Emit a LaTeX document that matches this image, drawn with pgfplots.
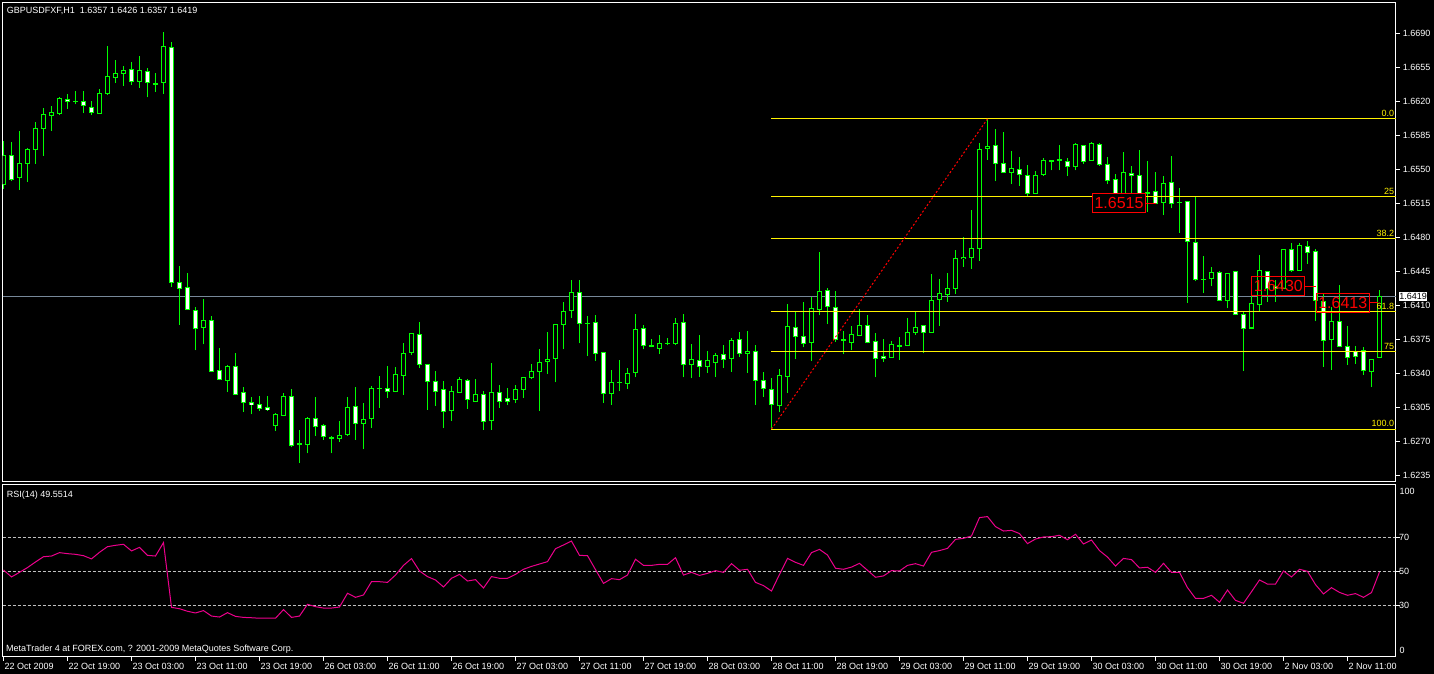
\documentclass[border=0pt]{standalone}
\usepackage{fontspec}
\setmainfont{Liberation Sans}
\usepackage{pgfplots}
\usepackage{pgfplotstable}
\pgfplotsset{compat=1.18}

\definecolor{mtgreen}{RGB}{0,255,0}
\definecolor{bidgray}{RGB}{119,136,153}
\definecolor{lvlgray}{RGB}{192,192,192}
\newcommand\pxu{0.00010285}% one pixel in price units
\newcommand\mtfont{\fontsize{9}{10}\selectfont}

% GBPUSD H1 candles: bar index, open, high, low, close
\pgfplotstableread{
i O H L C
0 1.6535 1.6579 1.6530 1.6564
1 1.6564 1.6578 1.6538 1.6540
2 1.6542 1.6590 1.6529 1.6556
3 1.6556 1.6572 1.6537 1.6571
4 1.6571 1.6599 1.6556 1.6592
5 1.6592 1.6613 1.6564 1.6607
6 1.6606 1.6615 1.6590 1.6609
7 1.6607 1.6624 1.6606 1.6623
8 1.6622 1.6628 1.6612 1.6620
9 1.6620 1.6631 1.6617 1.6620
10 1.6620 1.6631 1.6608 1.6616
11 1.6614 1.6620 1.6606 1.6609
12 1.6608 1.6633 1.6607 1.6628
13 1.6628 1.6677 1.6627 1.6646
14 1.6645 1.6663 1.6639 1.6649
15 1.6649 1.6656 1.6636 1.6652
16 1.6653 1.6660 1.6637 1.6641
17 1.6640 1.6667 1.6634 1.6652
18 1.6651 1.6654 1.6624 1.6639
19 1.6638 1.6649 1.6630 1.6638
20 1.6639 1.6691 1.6628 1.6677
21 1.6676 1.6681 1.6429 1.6434
22 1.6434 1.6451 1.6390 1.6428
23 1.6429 1.6443 1.6406 1.6406
24 1.6405 1.6409 1.6364 1.6387
25 1.6387 1.6417 1.6370 1.6395
26 1.6395 1.6399 1.6342 1.6342
27 1.6343 1.6366 1.6333 1.6334
28 1.6333 1.6349 1.6321 1.6347
29 1.6347 1.6361 1.6318 1.6319
30 1.6321 1.6326 1.6301 1.6310
31 1.6310 1.6316 1.6298 1.6308
32 1.6308 1.6317 1.6302 1.6304
33 1.6305 1.6317 1.6302 1.6303
34 1.6287 1.6299 1.6281 1.6298
35 1.6297 1.6320 1.6296 1.6317
36 1.6317 1.6324 1.6264 1.6266
37 1.6268 1.6282 1.6248 1.6268
38 1.6267 1.6295 1.6258 1.6294
39 1.6294 1.6316 1.6276 1.6286
40 1.6287 1.6288 1.6272 1.6275
41 1.6274 1.6276 1.6258 1.6274
42 1.6273 1.6291 1.6270 1.6276
43 1.6277 1.6316 1.6276 1.6305
44 1.6306 1.6326 1.6272 1.6289
45 1.6289 1.6310 1.6262 1.6293
46 1.6294 1.6327 1.6284 1.6325
47 1.6325 1.6338 1.6305 1.6325
48 1.6325 1.6348 1.6315 1.6322
49 1.6322 1.6347 1.6321 1.6339
50 1.6338 1.6371 1.6318 1.6361
51 1.6362 1.6382 1.6359 1.6381
52 1.6380 1.6393 1.6346 1.6349
53 1.6349 1.6350 1.6303 1.6332
54 1.6332 1.6343 1.6307 1.6322
55 1.6324 1.6332 1.6284 1.6301
56 1.6302 1.6327 1.6291 1.6322
57 1.6321 1.6337 1.6320 1.6334
58 1.6333 1.6334 1.6304 1.6313
59 1.6311 1.6334 1.6311 1.6319
60 1.6319 1.6322 1.6282 1.6291
61 1.6292 1.6351 1.6282 1.6321
62 1.6321 1.6328 1.6305 1.6311
63 1.6314 1.6325 1.6308 1.6311
64 1.6313 1.6328 1.6310 1.6324
65 1.6324 1.6336 1.6315 1.6336
66 1.6336 1.6350 1.6334 1.6342
67 1.6342 1.6365 1.6302 1.6352
68 1.6352 1.6383 1.6340 1.6355
69 1.6356 1.6390 1.6331 1.6390
70 1.6391 1.6414 1.6365 1.6404
71 1.6405 1.6436 1.6397 1.6423
72 1.6423 1.6436 1.6371 1.6392
73 1.6392 1.6399 1.6358 1.6392
74 1.6393 1.6400 1.6353 1.6361
75 1.6362 1.6362 1.6310 1.6320
76 1.6320 1.6344 1.6308 1.6331
77 1.6331 1.6354 1.6322 1.6331
78 1.6330 1.6346 1.6324 1.6340
79 1.6341 1.6401 1.6336 1.6385
80 1.6386 1.6390 1.6365 1.6369
81 1.6369 1.6376 1.6367 1.6369
82 1.6366 1.6380 1.6360 1.6371
83 1.6371 1.6377 1.6369 1.6371
84 1.6371 1.6397 1.6369 1.6392
85 1.6393 1.6401 1.6336 1.6349
86 1.6349 1.6370 1.6335 1.6355
87 1.6354 1.6380 1.6337 1.6347
88 1.6347 1.6363 1.6341 1.6353
89 1.6352 1.6361 1.6337 1.6359
90 1.6360 1.6369 1.6346 1.6355
91 1.6356 1.6377 1.6342 1.6374
92 1.6375 1.6383 1.6357 1.6361
93 1.6361 1.6384 1.6341 1.6363
94 1.6363 1.6369 1.6308 1.6333
95 1.6333 1.6342 1.6316 1.6325
96 1.6324 1.6335 1.6283 1.6308
97 1.6307 1.6345 1.6300 1.6338
98 1.6337 1.6412 1.6320 1.6389
99 1.6388 1.6404 1.6355 1.6378
100 1.6378 1.6414 1.6367 1.6371
101 1.6372 1.6419 1.6353 1.6407
102 1.6406 1.6465 1.6400 1.6425
103 1.6425 1.6428 1.6391 1.6409
104 1.6408 1.6425 1.6373 1.6375
105 1.6375 1.6384 1.6360 1.6375
106 1.6372 1.6389 1.6364 1.6380
107 1.6379 1.6406 1.6379 1.6390
108 1.6389 1.6400 1.6371 1.6372
109 1.6373 1.6382 1.6336 1.6356
110 1.6358 1.6376 1.6352 1.6356
111 1.6357 1.6374 1.6357 1.6370
112 1.6369 1.6378 1.6354 1.6369
113 1.6369 1.6397 1.6368 1.6382
114 1.6382 1.6403 1.6380 1.6388
115 1.6389 1.6389 1.6361 1.6382
116 1.6382 1.6442 1.6382 1.6415
117 1.6416 1.6437 1.6389 1.6422
118 1.6421 1.6443 1.6414 1.6428
119 1.6428 1.6467 1.6422 1.6458
120 1.6458 1.6480 1.6450 1.6460
121 1.6460 1.6508 1.6448 1.6469
122 1.6469 1.6577 1.6456 1.6570
123 1.6572 1.6602 1.6560 1.6574
124 1.6575 1.6592 1.6538 1.6556
125 1.6556 1.6588 1.6546 1.6547
126 1.6547 1.6569 1.6535 1.6551
127 1.6550 1.6563 1.6533 1.6545
128 1.6544 1.6555 1.6523 1.6525
129 1.6525 1.6548 1.6525 1.6544
130 1.6545 1.6562 1.6543 1.6559
131 1.6559 1.6560 1.6549 1.6559
132 1.6560 1.6575 1.6549 1.6560
133 1.6558 1.6562 1.6543 1.6553
134 1.6553 1.6577 1.6549 1.6576
135 1.6575 1.6575 1.6556 1.6558
136 1.6559 1.6578 1.6559 1.6577
137 1.6576 1.6577 1.6554 1.6555
138 1.6555 1.6563 1.6535 1.6539
139 1.6540 1.6545 1.6521 1.6523
140 1.6523 1.6568 1.6521 1.6547
141 1.6546 1.6554 1.6520 1.6544
142 1.6544 1.6570 1.6521 1.6524
143 1.6526 1.6559 1.6506 1.6526
144 1.6527 1.6547 1.6515 1.6515
145 1.6516 1.6543 1.6503 1.6536
146 1.6537 1.6564 1.6510 1.6515
147 1.6516 1.6531 1.6485 1.6516
148 1.6517 1.6517 1.6413 1.6476
149 1.6475 1.6522 1.6435 1.6437
150 1.6437 1.6461 1.6423 1.6437
151 1.6438 1.6450 1.6430 1.6444
152 1.6444 1.6446 1.6415 1.6415
153 1.6415 1.6443 1.6407 1.6443
154 1.6445 1.6445 1.6401 1.6401
155 1.6401 1.6404 1.6343 1.6387
156 1.6387 1.6439 1.6387 1.6412
157 1.6411 1.6462 1.6404 1.6446
158 1.6445 1.6446 1.6414 1.6428
159 1.6430 1.6436 1.6414 1.6428
160 1.6428 1.6468 1.6427 1.6468
161 1.6468 1.6474 1.6445 1.6446
162 1.6446 1.6474 1.6446 1.6472
163 1.6471 1.6476 1.6453 1.6465
164 1.6466 1.6468 1.6394 1.6415
165 1.6414 1.6423 1.6347 1.6374
166 1.6375 1.6408 1.6344 1.6394
167 1.6394 1.6431 1.6368 1.6368
168 1.6368 1.6389 1.6349 1.6357
169 1.6363 1.6368 1.6350 1.6358
170 1.6364 1.6367 1.6339 1.6343
171 1.6342 1.6355 1.6326 1.6355
172 1.6357 1.6426 1.6357 1.6419
}\candles

% RSI(14)
\pgfplotstableread{
i R
0 50.8
1 46.7
2 49.4
3 52.2
4 55.5
5 58.6
6 59.0
7 61.0
8 60.4
9 60.0
10 59.2
11 57.3
12 61.2
13 64.5
14 65.3
15 65.9
16 62.0
17 64.1
18 59.4
19 59.0
20 66.9
21 28.8
22 28.0
23 26.5
24 25.5
25 26.9
26 23.7
27 23.1
28 25.7
29 23.5
30 22.9
31 22.7
32 22.4
33 22.4
34 22.4
35 27.5
36 22.9
37 23.7
38 30.6
39 29.2
40 28.4
41 28.4
42 29.0
43 37.1
44 34.7
45 36.1
46 43.9
47 43.9
48 43.5
49 47.8
50 53.5
51 57.5
52 50.2
53 46.9
54 44.9
55 40.8
56 45.9
57 48.2
58 44.3
59 45.1
60 40.2
61 46.9
62 45.9
63 45.9
64 48.2
65 51.2
66 52.9
67 54.3
68 55.7
69 63.3
70 65.5
71 67.8
72 59.4
73 59.2
74 51.0
75 42.9
76 45.7
77 45.1
78 47.8
79 57.1
80 53.5
81 53.5
82 54.1
83 54.1
84 58.0
85 47.8
86 49.4
87 47.6
88 48.8
89 50.4
90 49.4
91 54.5
92 50.6
93 51.2
94 43.5
95 41.6
96 38.4
97 48.2
98 57.6
99 55.3
100 53.5
101 61.0
102 62.9
103 59.6
104 51.8
105 51.2
106 52.5
107 54.7
108 50.6
109 46.5
110 47.3
111 50.4
112 50.2
113 53.5
114 54.5
115 53.1
116 61.2
117 62.2
118 63.5
119 68.8
120 69.4
121 70.8
122 81.6
123 82.2
124 76.3
125 73.7
126 74.1
127 72.2
128 66.3
129 69.0
130 70.2
131 70.4
132 71.2
133 68.6
134 71.8
135 66.1
136 68.4
137 62.2
138 58.4
139 53.1
140 57.6
141 56.9
142 52.0
143 52.4
144 49.4
145 54.7
146 49.4
147 49.4
148 40.4
149 34.1
150 34.1
151 35.9
152 31.8
153 39.0
154 32.9
155 31.2
156 38.0
157 44.9
158 42.5
159 42.5
160 50.2
161 46.7
162 51.2
163 50.0
164 42.2
165 36.7
166 40.4
167 37.6
168 35.9
169 36.9
170 34.7
171 37.5
172 49.6
}\rsi

\pgfplotsset{
  mt/.style={
    scale only axis,
    width=1393.5pt,
    xmin=-0.125, xmax=174.0625,
    axis line style={white, line width=1pt},
    tick style={white, line width=1pt},
    tick align=outside,
    major tick length=4pt,
    tick label style={text=white, font=\mtfont},
    /pgf/number format/assume math mode=true,
    scaled ticks=false,
  },
  candle/.style={draw=none, forget plot, overlay,
    error bars/.cd, y dir=both, y explicit, error mark=none},
}

\begin{document}
\begin{tikzpicture}[x=1pt,y=1pt]
\fill[black] (0,0) rectangle (1434,674);

% ---- price panel ----
\begin{axis}[mt,
  at={(2.5pt,671.5pt)}, anchor=north west, height=479.5pt,
  ymin=1.622852, ymax=1.672168,
  xtick=\empty, ytick pos=right,
  ytick={1.6235,1.6270,1.6305,1.6340,1.6375,1.6410,1.6445,1.6480,1.6515,1.6550,1.6585,1.6620,1.6655,1.6690},
  yticklabel style={anchor=west, inner sep=0pt, xshift=2.7pt,
    /pgf/number format/.cd, fixed, fixed zerofill, precision=4},
]
% bid line
\addplot[bidgray, line width=1pt] coordinates {(-0.125,1.6419) (174.0625,1.6419)};

% wicks
\addplot[draw=none, forget plot, overlay, error bars/.cd, y dir=plus, y explicit, error mark=none,
  error bar style={draw=mtgreen, line width=1pt, overlay}]
  table[x=i, y=L, y error expr={\thisrow{H}-\thisrow{L}}] {\candles};
% body outlines
\addplot[candle, error bar style={draw=mtgreen, line width=5pt, overlay}]
  table[x=i, y expr={(\thisrow{O}+\thisrow{C})/2},
        y error expr={abs(\thisrow{C}-\thisrow{O})/2+0.5*\pxu}] {\candles};
% bear bodies (white)
\addplot[candle, error bar style={draw=white, line width=3pt, overlay},
  /pgfplots/restrict expr to domain={\thisrow{O}-\thisrow{C}}{0.00015:1}]
  table[x=i, y expr={(\thisrow{O}+\thisrow{C})/2},
        y error expr={abs(\thisrow{C}-\thisrow{O})/2-0.5*\pxu}] {\candles};
% bull bodies (black)
\addplot[candle, error bar style={draw=black, line width=3pt, overlay},
  /pgfplots/restrict expr to domain={\thisrow{C}-\thisrow{O}}{0.00015:1}]
  table[x=i, y expr={(\thisrow{O}+\thisrow{C})/2},
        y error expr={abs(\thisrow{C}-\thisrow{O})/2-0.5*\pxu}] {\candles};

% Fibonacci retracement
\addplot[yellow, line width=1pt] coordinates {(96,1.6602) (174.0625,1.6602)};
\addplot[yellow, line width=1pt] coordinates {(96,1.652225) (174.0625,1.652225)};
\addplot[yellow, line width=1pt] coordinates {(96,1.647914) (174.0625,1.647914)};
\addplot[yellow, line width=1pt] coordinates {(96,1.640386) (174.0625,1.640386)};
\addplot[yellow, line width=1pt] coordinates {(96,1.636275) (174.0625,1.636275)};
\addplot[yellow, line width=1pt] coordinates {(96,1.6283) (174.0625,1.6283)};
\addplot[red, line width=1pt, dash pattern=on 2pt off 2pt] coordinates {(96,1.6283) (123,1.6602)};

\begin{scope}[every node/.style={font=\mtfont, text=yellow, inner sep=0pt, anchor=south east, xshift=-1.7pt, yshift=2pt}]
\node at (axis cs:174.0625,1.6602) {0.0};
\node at (axis cs:174.0625,1.652225) {25};
\node at (axis cs:174.0625,1.647914) {38.2};
\node at (axis cs:174.0625,1.640386) {61.8};
\node at (axis cs:174.0625,1.636275) {75};
\node at (axis cs:174.0625,1.6283) {100.0};
\end{scope}

% price labels
\addplot[red, line width=1pt] coordinates {(142.81,1.6515) (144.06,1.6515)};
\addplot[red, line width=1pt] coordinates {(162.73,1.6430) (164.03,1.6430)};
\addplot[red, line width=1pt] coordinates {(170.78,1.6413) (171.81,1.6413)};
\begin{scope}[every node/.style={draw=red, line width=1pt, text=red, inner sep=0pt,
    minimum width=53pt, minimum height=19pt, anchor=east, font=\fontsize{16}{16}\selectfont}]
\node[fill=black] at (axis cs:142.81,1.6515) {1.6515};
\node at (axis cs:162.73,1.6430) {1.6430};
\node at (axis cs:170.78,1.6413) {1.6413};
\end{scope}

\coordinate (bid) at (axis cs:174.0625,1.6419);
\end{axis}

\node[anchor=west, fill=white, text=black, inner sep=0.6pt, minimum height=9pt, font=\mtfont, xshift=2.5pt] at (bid) {1.6419};

\node[anchor=base west, inner sep=0pt, text=white, font=\mtfont] at (6.7,660)
  {GBPUSDFXF,H1\hspace{5pt}1.6357 1.6426 1.6357 1.6419};

% ---- RSI panel ----
\begin{axis}[mt,
  at={(2.5pt,189.3pt)}, anchor=north west, height=172pt,
  ymin=-0.22, ymax=100.96,
  ytick={30,50,70}, ytick pos=right,
  yticklabel style={anchor=west, inner sep=0pt, xshift=-1pt},
  ymajorgrids, grid style={lvlgray, line width=1pt, dash pattern=on 3pt off 2pt},
  xtick={0,8,...,168}, xtick pos=left,
  xticklabels={22 Oct 2009, 22 Oct 19:00, 23 Oct 03:00, 23 Oct 11:00, 23 Oct 19:00,
    26 Oct 03:00, 26 Oct 11:00, 26 Oct 19:00, 27 Oct 03:00, 27 Oct 11:00, 27 Oct 19:00,
    28 Oct 03:00, 28 Oct 11:00, 28 Oct 19:00, 29 Oct 03:00, 29 Oct 11:00, 29 Oct 19:00,
    30 Oct 03:00, 30 Oct 11:00, 30 Oct 19:00, 2 Nov 03:00, 2 Nov 11:00},
  xticklabel style={anchor=base west, inner sep=0pt, xshift=1pt, yshift=-9pt},
]
\addplot[magenta, line width=1pt] table[x=i, y=R] {\rsi};
\end{axis}

\node[anchor=west, inner sep=0pt, text=white, font=\mtfont] at (1399.5,182.3) {100};
\node[anchor=west, inner sep=0pt, text=white, font=\mtfont] at (1399.5,23.3) {0};
\node[anchor=base west, inner sep=0pt, text=white, font=\mtfont] at (6.7,176.3) {RSI(14) 49.5514};
\node[anchor=base west, inner sep=0pt, text=white, font=\mtfont] at (6,22)
  {MetaTrader 4 at FOREX.com, ? 2001-2009 MetaQuotes Software Corp.};

\pgfresetboundingbox
\path[use as bounding box] (0,0) rectangle (1434,674);
\end{tikzpicture}
\end{document}
